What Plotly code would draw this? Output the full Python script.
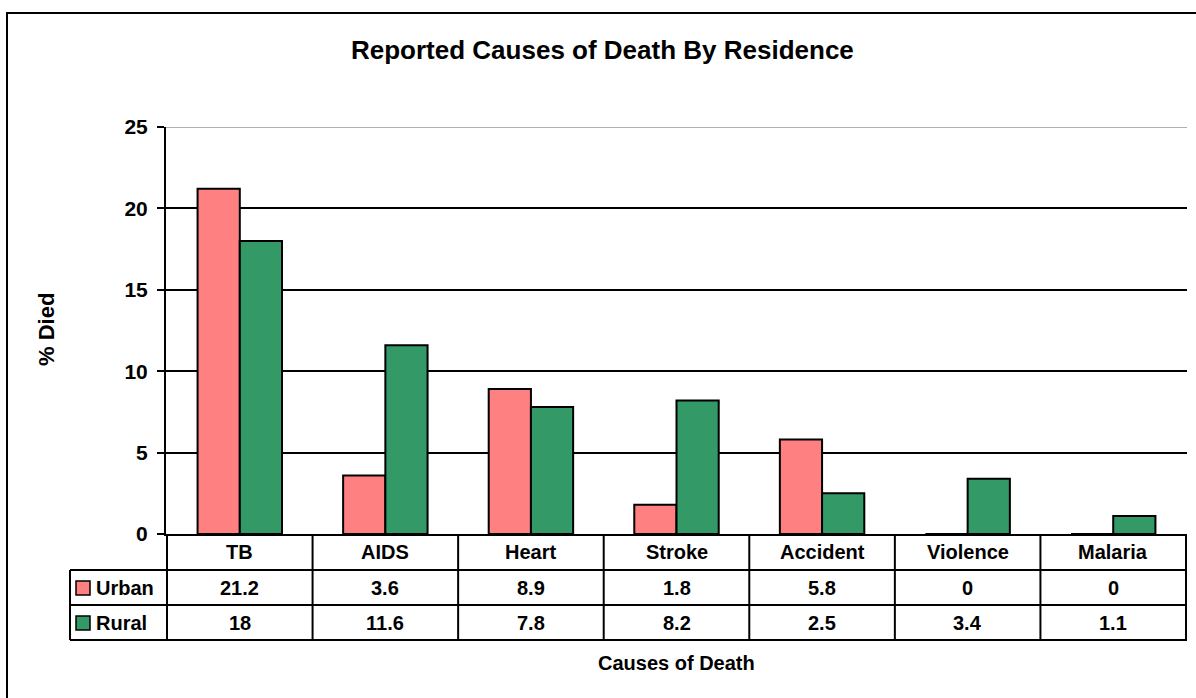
import plotly.graph_objects as go

categories = ["TB", "AIDS", "Heart", "Stroke", "Accident", "Violence", "Malaria"]
urban = [21.2, 3.6, 8.9, 1.8, 5.8, 0, 0]
rural = [18, 11.6, 7.8, 8.2, 2.5, 3.4, 1.1]
series_names = ["Urban", "Rural"]
series_colors = ["#FF8080", "#339966"]
y_ticks = [0, 5, 10, 15, 20, 25]

W, H = 1196, 698
L, R, T, B = 166, 1187, 127, 534
FONT = "Liberation Sans, Arial, sans-serif"


def px(x):
    return (x - L) / (R - L)


def py(y):
    return (B - y) / (B - T)


fig = go.Figure()
for name, vals, col in zip(series_names, [urban, rural], series_colors):
    fig.add_trace(go.Bar(
        x=categories, y=vals, name=name,
        marker=dict(color=col, line=dict(color="black", width=2)),
        showlegend=False,
    ))

shapes = []
ann = []
BL = dict(color="black", width=2)

# outer chart frame
shapes.append(dict(type="rect", xref="paper", yref="paper",
                   x0=px(7), x1=px(1300), y0=py(13), y1=py(800),
                   line=BL, fillcolor="rgba(0,0,0,0)", layer="below"))
# top gray line at 25
shapes.append(dict(type="line", xref="paper", yref="y", x0=0, x1=1, y0=25, y1=25,
                   line=dict(color="#b0b0b0", width=2)))

# data table lines
row_lines = [570, 605, 640]
for yy in row_lines:
    shapes.append(dict(type="line", xref="paper", yref="paper",
                       x0=px(70), x1=1, y0=py(yy), y1=py(yy), line=BL))
shapes.append(dict(type="line", xref="paper", yref="paper",
                   x0=px(70), x1=px(70), y0=py(570), y1=py(640), line=BL))
for i in range(len(categories) + 1):
    shapes.append(dict(type="line", xref="x", yref="paper",
                       x0=i - 0.5, x1=i - 0.5, y0=0, y1=py(640), line=BL))

TF = dict(size=20, color="black", family=FONT, weight="bold")
row_y = [552, 588, 623]
for c in categories:
    ann.append(dict(x=c, xref="x", y=py(row_y[0]), yref="paper", text=c,
                    xanchor="center", yanchor="middle", showarrow=False, font=TF))


def fmt(v):
    return "%g" % v


for r, (name, vals, col) in enumerate(zip(series_names, [urban, rural], series_colors)):
    yy = row_y[r + 1]
    for c, v in zip(categories, vals):
        ann.append(dict(x=c, xref="x", y=py(yy), yref="paper", text=fmt(v),
                        xanchor="center", yanchor="middle", showarrow=False, font=TF))
    ann.append(dict(x=px(94), xref="paper", xanchor="left", y=py(yy), yref="paper",
                    yanchor="middle", text=name, showarrow=False, font=TF))
    shapes.append(dict(type="rect", xref="paper", yref="paper",
                       x0=px(76), x1=px(90), y0=py(yy - 7), y1=py(yy + 7),
                       fillcolor=col, line=dict(color="black", width=1.5)))

# titles
ann.append(dict(x=px(602), xref="paper", y=py(50), yref="paper",
                xanchor="center", yanchor="middle",
                text="Reported Causes of Death By Residence", showarrow=False,
                font=dict(size=26, color="black", family=FONT, weight="bold")))
ann.append(dict(x=px(676), xref="paper", y=py(663), yref="paper",
                xanchor="center", yanchor="middle",
                text="Causes of Death", showarrow=False,
                font=dict(size=20, color="black", family=FONT, weight="bold")))
ann.append(dict(x=px(46), xref="paper", y=py(330), yref="paper", textangle=-90,
                xanchor="center", yanchor="middle",
                text="% Died", showarrow=False,
                font=dict(size=22, color="black", family=FONT, weight="bold")))

fig.update_layout(
    width=W, height=H,
    margin=dict(l=L, r=W - R, t=T, b=H - B, pad=0),
    paper_bgcolor="white", plot_bgcolor="white",
    barmode="group", bargap=0.42, bargroupgap=0,
    font=dict(family=FONT, color="black"),
    shapes=shapes, annotations=ann,
    xaxis=dict(showticklabels=False, showline=True, linecolor="black", linewidth=2,
               ticks="", showgrid=False, zeroline=False, fixedrange=True),
    yaxis=dict(range=[0, 25], tickvals=y_ticks,
               showline=True, linecolor="black", linewidth=2,
               ticks="outside", ticklen=7, tickwidth=2, tickcolor="black",
               showgrid=True, gridcolor="black", gridwidth=1.5, zeroline=False,
               tickfont=dict(size=21, color="black", family=FONT, weight="bold"),
               ticklabelstandoff=5),
)

fig.write_html("out.html", config={"displayModeBar": False},
               post_script="document.body.style.margin='0';")
